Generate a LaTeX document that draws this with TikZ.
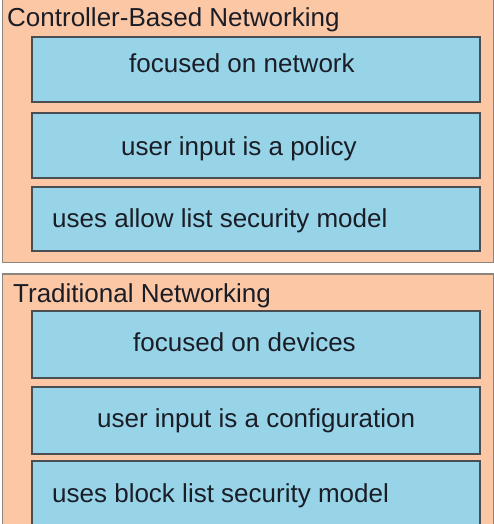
\documentclass[tikz,border=0pt]{standalone}
\usepackage{fontspec}
\setmainfont{Liberation Sans}
\definecolor{peach}{HTML}{FCC7A5}
\definecolor{skyb}{HTML}{97D4E8}
\definecolor{boxline}{HTML}{4A4E52}
\definecolor{panelline}{HTML}{8A8580}
\definecolor{txt}{HTML}{1B1D26}
\begin{document}
\begin{tikzpicture}[x=1pt,y=-1pt,
  panel/.style={draw=panelline,fill=peach,line width=1.5pt,anchor=north west,inner sep=0pt,minimum width=491pt},
  itembox/.style={draw=boxline,fill=skyb,line width=2pt,anchor=north west,inner sep=0pt,minimum width=448pt},
  lbl/.style={anchor=base west,inner sep=0pt,text=txt,font=\fontsize{26}{31}\selectfont}]
\useasboundingbox (0,0) rectangle (493,524);
\fill[white] (0,0) rectangle (493,524);
% top panel
\node[panel,minimum height=263pt] (p1) at (1.5,-1.5) {};
\node[lbl] (t1) at (7,27) {Controller-Based Networking};
\node[itembox,minimum height=65pt] (a1) at (31,36) {};
\node[itembox,minimum height=65pt] (a2) at (31,112) {};
\node[itembox,minimum height=64pt] (a3) at (31,186) {};
\node[lbl] (a1t) at (129,73) {focused on network};
\node[lbl] (a2t) at (121,155) {user input is a policy};
\node[lbl] (a3t) at (52,227) {uses allow list security model};
% bottom panel
\node[panel,minimum height=260pt] (p2) at (1.5,273) {};
\node[lbl] (t2) at (13,302) {Traditional Networking};
\node[itembox,minimum height=67pt] (b1) at (31,310) {};
\node[itembox,minimum height=67pt] (b2) at (31,386) {};
\node[itembox,minimum height=80pt] (b3) at (31,460) {};
\node[lbl] (b1t) at (133,351) {focused on devices};
\node[lbl] (b2t) at (97,427) {user input is a configuration};
\node[lbl] (b3t) at (52,502) {uses block list security model};
\end{tikzpicture}
\end{document}
